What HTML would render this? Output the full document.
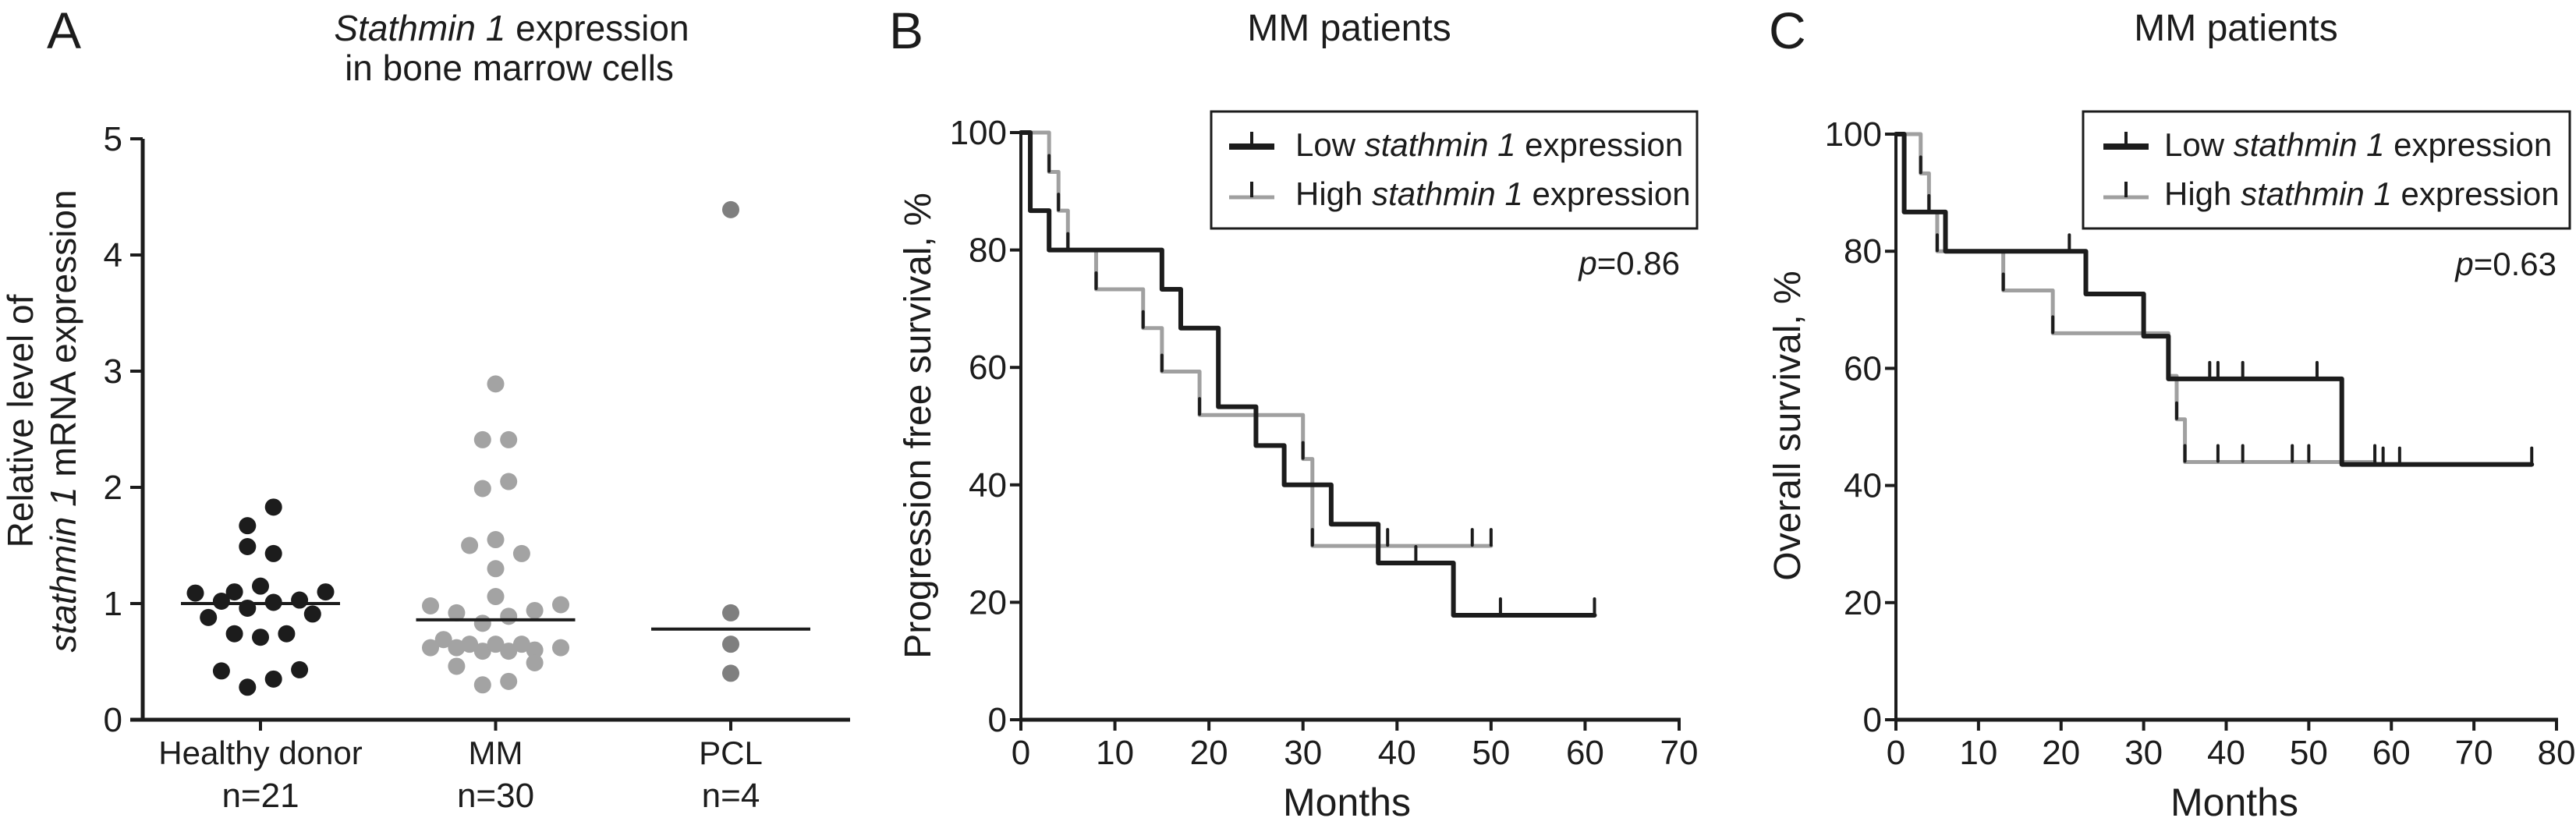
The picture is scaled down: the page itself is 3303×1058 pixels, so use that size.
<!DOCTYPE html>
<html><head><meta charset="utf-8"><style>
html,body{margin:0;padding:0;background:#fff}
svg{display:block}
text{font-family:"Liberation Sans",Arial,sans-serif;fill:#1c1c1c}
</style></head><body>
<svg id="fig" width="3303" height="1058" viewBox="0 0 3303 1058" xmlns="http://www.w3.org/2000/svg">
<text x="60" y="62" font-size="66">A</text>
<text x="1140" y="62" font-size="66">B</text>
<text x="2268" y="62" font-size="66">C</text>
<text x="656" y="52" font-size="46" text-anchor="middle"><tspan font-style="italic">Stathmin 1</tspan> expression</text>
<text x="653" y="103" font-size="46" text-anchor="middle">in bone marrow cells</text>
<text x="1730" y="52" font-size="48" text-anchor="middle">MM patients</text>
<text x="2867" y="52" font-size="48" text-anchor="middle">MM patients</text>
<text transform="translate(42,540) rotate(-90)" font-size="46" text-anchor="middle">Relative level of</text>
<text transform="translate(97,540) rotate(-90)" font-size="46" text-anchor="middle"><tspan font-style="italic">stathmin 1</tspan> mRNA expression</text>
<text transform="translate(1193,546) rotate(-90)" font-size="48" text-anchor="middle">Progression free survival, %</text>
<text transform="translate(2308,546) rotate(-90)" font-size="48" text-anchor="middle">Overall survival, %</text>
<text x="1727" y="1046" font-size="50" text-anchor="middle">Months</text>
<text x="2865" y="1046" font-size="50" text-anchor="middle">Months</text>
<g id="gA"></g>
<g id="gB"></g>
<g id="gC"></g>
<text x="2154" y="352" font-size="42" text-anchor="end"><tspan font-style="italic">p</tspan>=0.86</text>
<text x="3278" y="353" font-size="42" text-anchor="end"><tspan font-style="italic">p</tspan>=0.63</text>
</svg>
<script>
// Panel A data
const aCategories = ["Healthy donor","MM","PCL"];
const aCounts = ["n=21","n=30","n=4"];
const aYTicks = [0,1,2,3,4,5];
const healthyValues = [1.83,1.67,1.49,1.43,1.09,1.10,1.15,1.10,1.02,0.96,1.01,1.03,0.88,0.91,0.74,0.71,0.74,0.42,0.43,0.28,0.35];
const healthyLanes = [1,-1,-1,1,-5,-2,0,5,-3,-1,1,3,-4,4,-2,0,2,-3,3,-1,1];
const mmValues = [2.89,2.41,2.41,1.99,2.05,1.50,1.55,1.43,1.30,1.06,0.98,0.99,0.92,0.89,0.94,0.83,0.69,0.62,0.62,0.65,0.59,0.65,0.59,0.65,0.60,0.62,0.46,0.49,0.30,0.33];
const mmLanes = [0,-1,1,-1,1,-2,0,2,0,0,-5,5,-3,1,3,-1,-4,-5,-3,-2,-1,0,1,2,3,5,-3,3,-1,1];
const pclValues = [4.39,0.92,0.65,0.40];
const pclLanes = [0,0,0,0];
const aMedians = [1.0,0.86,0.78];

// Panel B data (PFS)
const bXTicks = [0,10,20,30,40,50,60,70];
const kmYTicks = [0,20,40,60,80,100];
const bLowTimes = [0,1,3,15,17,21,25,28,33,38,46,61];
const bLowSurv  = [100,86.7,80,73.3,66.7,53.3,46.7,40,33.3,26.7,17.8,17.8];
const bLowCensorT = [42,51,61];
const bLowCensorS = [26.7,17.8,17.8];
const bHighTimes = [0,3,4,5,8,13,15,19,30,31,50];
const bHighSurv  = [100,93.3,86.7,80,73.3,66.7,59.3,51.9,44.4,29.6,29.6];
const bHighCensorT = [3,4,5,8,13,15,19,30,31,39,48,50];
const bHighCensorS = [93.3,86.7,80,73.3,66.7,59.3,51.9,44.4,29.6,29.6,29.6,29.6];

// Panel C data (OS)
const cXTicks = [0,10,20,30,40,50,60,70,80];
const cLowTimes = [0,1,6,23,30,33,54,77];
const cLowSurv  = [100,86.7,80,72.7,65.5,58.2,43.6,43.6];
const cLowCensorT = [21,38,39,42,51,59,61,77];
const cLowCensorS = [80,58.2,58.2,58.2,58.2,43.6,43.6,43.6];
const cHighTimes = [0,3,4,5,13,19,33,34,35,58];
const cHighSurv  = [100,93.3,86.7,80,73.3,66,58.7,51.3,44,44];
const cHighCensorT = [3,4,5,13,19,33,34,35,39,42,48,50,58];
const cHighCensorS = [93.3,86.7,80,73.3,66,58.7,51.3,44,44,44,44,44,44];

const NS="http://www.w3.org/2000/svg";
const DARK="#1c1c1c", GREY="#a0a0a0";
function mk(parent,tag,attrs){const e=document.createElementNS(NS,tag);for(const k in attrs)e.setAttribute(k,attrs[k]);parent.appendChild(e);return e;}

// ---- Panel A ----
(function(){
  const g=document.getElementById('gA');
  const x0=183, yBase=923, yTop=178;
  const yA=v=>yBase-(v/5)*(yBase-yTop);
  const catX=i=>334+i*301.5;
  const lane=16.7;
  let e=mk(g,'line',{x1:x0,y1:yTop,x2:x0,y2:yBase+2,stroke:DARK,'stroke-width':5});
  
  e=mk(g,'line',{x1:167,y1:yBase,x2:1090,y2:yBase,stroke:DARK,'stroke-width':5});
  
  aYTicks.forEach(t=>{
    const y=yA(t);
    let l=mk(g,'line',{x1:167,y1:y,x2:x0,y2:y,stroke:DARK,'stroke-width':4});
    
    let tx=mk(g,'text',{x:157,y:y+15,'font-size':44,'text-anchor':'end'});tx.textContent=t;
    
  });
  aCategories.forEach((c,i)=>{
    const x=catX(i);
    let l=mk(g,'line',{x1:x,y1:yBase,x2:x,y2:yBase+14,stroke:DARK,'stroke-width':4});
    
    let t=mk(g,'text',{x:x,y:980,'font-size':42,'text-anchor':'middle'});t.textContent=c;
    
    let n=mk(g,'text',{x:x,y:1035,'font-size':44,'text-anchor':'middle'});n.textContent=aCounts[i];
    
  });
  const groups=[[healthyValues,healthyLanes,"#1c1c1c"],[mmValues,mmLanes,"#a3a3a3"],[pclValues,pclLanes,"#7f7f7f"]];
  groups.forEach((gr,i)=>{
    gr[0].forEach((v,j)=>{
      const c=mk(g,'circle',{cx:catX(i)+gr[1][j]*lane,cy:yA(v),r:11,fill:gr[2]});
      
      
    });
  });
  aMedians.forEach((m,i)=>{
    const l=mk(g,'line',{x1:catX(i)-102,y1:yA(m),x2:catX(i)+102,y2:yA(m),stroke:DARK,'stroke-width':4});
    
    
  });
})();

// ---- KM panels ----
function kmPanel(gid,pre,x0,x1,xMax,xTicks,yTop,low,high,legX,sampleX,textX){
  const g=document.getElementById(gid);
  const yBase=923;
  const X=t=>x0+t/xMax*(x1-x0);
  const Y=s=>yBase-s/100*(yBase-yTop);
  let e=mk(g,'line',{x1:x0,y1:yTop-2,x2:x0,y2:yBase+2,stroke:DARK,'stroke-width':4});
  
  e=mk(g,'line',{x1:x0-2,y1:yBase,x2:x1+2,y2:yBase,stroke:DARK,'stroke-width':5});
  
  kmYTicks.forEach(t=>{
    const y=Y(t);
    let l=mk(g,'line',{x1:x0-14,y1:y,x2:x0,y2:y,stroke:DARK,'stroke-width':4});
    
    let tx=mk(g,'text',{x:x0-18,y:y+15,'font-size':44,'text-anchor':'end'});tx.textContent=t;
    
  });
  xTicks.forEach(t=>{
    const x=X(t);
    let l=mk(g,'line',{x1:x,y1:yBase,x2:x,y2:yBase+14,stroke:DARK,'stroke-width':4});
    
    let tx=mk(g,'text',{x:x,y:980,'font-size':44,'text-anchor':'middle'});tx.textContent=t;
    
  });
  function step(times,surv,color,w,name){
    let d='M'+X(times[0])+' '+Y(surv[0]);
    for(let i=1;i<times.length;i++){d+=' H'+X(times[i])+' V'+Y(surv[i]);}
    const p=mk(g,'path',{d:d,fill:'none',stroke:color,'stroke-width':w,'stroke-linejoin':'round','stroke-linecap':'round'});
    
    
  }
  function cens(ts,ss,name){
    ts.forEach((t,i)=>{
      const l=mk(g,'line',{x1:X(t),y1:Y(ss[i])-1,x2:X(t),y2:Y(ss[i])-21,stroke:DARK,'stroke-width':4,'stroke-linecap':'round'});
      
      
    });
  }
  step(high[0],high[1],GREY,5,pre+'-high-curve');
  step(low[0],low[1],DARK,6,pre+'-low-curve');
  cens(high[2],high[3],pre+'-high-censor');
  cens(low[2],low[3],pre+'-low-censor');
  // legend
  const lb=mk(g,'rect',{x:legX[0],y:143,width:legX[1]-legX[0],height:150,fill:'#fff',stroke:DARK,'stroke-width':3});
  
  let s=mk(g,'line',{x1:sampleX,y1:188,x2:sampleX+58,y2:188,stroke:DARK,'stroke-width':8});
  
  s=mk(g,'line',{x1:sampleX+29,y1:188,x2:sampleX+29,y2:169,stroke:DARK,'stroke-width':4});
  
  s=mk(g,'line',{x1:sampleX,y1:253,x2:sampleX+58,y2:253,stroke:GREY,'stroke-width':5});
  
  s=mk(g,'line',{x1:sampleX+29,y1:253,x2:sampleX+29,y2:233,stroke:DARK,'stroke-width':4});
  
  let t=mk(g,'text',{x:textX,y:200,'font-size':42});
  t.innerHTML='Low <tspan font-style="italic">stathmin 1</tspan> expression';
  
  t=mk(g,'text',{x:textX,y:263,'font-size':42});
  t.innerHTML='High <tspan font-style="italic">stathmin 1</tspan> expression';
  
}
kmPanel('gB','b',1309,2153,70,bXTicks,170,
  [bLowTimes,bLowSurv,bLowCensorT,bLowCensorS],[bHighTimes,bHighSurv,bHighCensorT,bHighCensorS],
  [1553,2176],1576,1661);
kmPanel('gC','c',2431,3278,80,cXTicks,172,
  [cLowTimes,cLowSurv,cLowCensorT,cLowCensorS],[cHighTimes,cHighSurv,cHighCensorT,cHighCensorS],
  [2671,3295],2697,2775);
</script>
</body></html>
